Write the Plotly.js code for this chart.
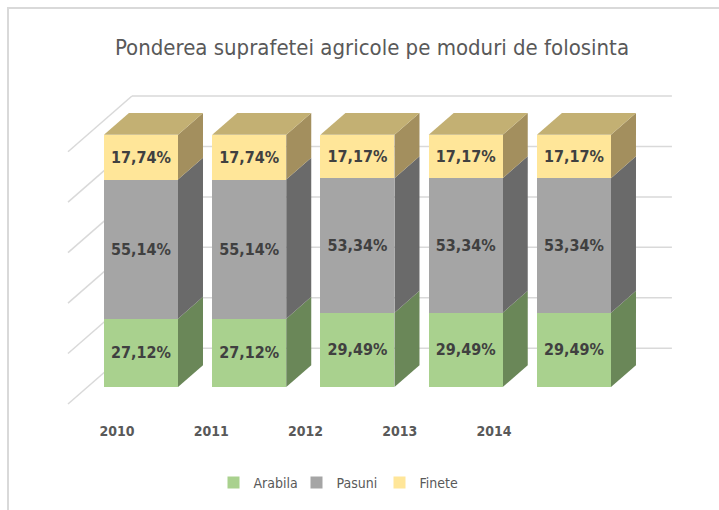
<!DOCTYPE html>
<html>
<head>
<meta charset="utf-8">
<script src="https://cdn.plot.ly/plotly-3.0.1.min.js"></script>
<style>
  html, body { margin: 0; padding: 0; background: #ffffff; }
  #wrap { position: relative; width: 719px; height: 510px; overflow: hidden; }
  #chart { width: 719px; height: 510px; }
  #frame { position: absolute; left: 7px; top: 7px; right: -10px; bottom: -10px;
           border-top: 2px solid #d9d9d9; border-left: 2px solid #d9d9d9; pointer-events: none; }
</style>
</head>
<body>
<div id="wrap"><div id="chart"></div><div id="frame"></div></div>
<script>
// ---- data ----
const years = ['2010', '2011', '2012', '2013', '2014'];
const seriesNames = ['Arabila', 'Pasuni', 'Finete'];
const arabila = [27.12, 27.12, 29.49, 29.49, 29.49];
const pasuni  = [55.14, 55.14, 53.34, 53.34, 53.34];
const finete  = [17.74, 17.74, 17.17, 17.17, 17.17];
const gridVals = [0, 20, 40, 60, 80, 100];

// ---- styles ----
const FONT = '"Liberation Sans Narrow", "DejaVu Sans Condensed", "Noto Sans", sans-serif';
const frontColors = ['#a9d18e', '#a5a5a5', '#ffe699'];
const sideColors  = ['#6a8758', '#6a6a6a', '#a38f5e'];
const topColor = '#c3b073';
const BW = 0.684;                    // bar width (category units)
const DX = 0.231, DY = 8.7;          // bar depth offset
const WALL_FRONT = {x: -0.674, dy: -6.7};  // left wall front edge
const WALL_BACK  = {x: -0.083, dy: 15.4};  // back wall left edge
const WALL_RIGHT = 4.905;

const idx = years.map((_, i) => i);
const series = [arabila, pasuni, finete];

const traces = series.map((vals, s) => ({
  type: 'bar', name: seriesNames[s], x: idx, y: vals, width: BW,
  marker: {color: frontColors[s], line: {width: 0}},
  texttemplate: '%{y:.2f}%', textposition: 'inside', insidetextanchor: 'middle',
  textangle: 0, constraintext: 'none',
  textfont: {family: FONT, size: 16, color: '#404040', weight: 700},
  hoverinfo: 'skip'
}));
// invisible trace to carry the year-label axis
traces.push({type: 'scatter', x: idx, y: idx.map(() => -1000), xaxis: 'x2', mode: 'markers',
  marker: {opacity: 0}, showlegend: false, hoverinfo: 'skip'});

const shapes = [];
// back wall + left wall gridlines
gridVals.forEach(v => {
  shapes.push({type: 'line', xref: 'x', yref: 'y', layer: 'below',
    x0: WALL_BACK.x, y0: v + WALL_BACK.dy, x1: WALL_RIGHT, y1: v + WALL_BACK.dy,
    line: {color: '#d9d9d9', width: 1.5}});
  shapes.push({type: 'line', xref: 'x', yref: 'y', layer: 'below',
    x0: WALL_FRONT.x, y0: v + WALL_FRONT.dy, x1: WALL_BACK.x, y1: v + WALL_BACK.dy,
    line: {color: '#d9d9d9', width: 1.5}});
});
// side and top faces from data
idx.forEach(i => {
  let base = 0;
  const xr = i + BW / 2, xl = i - BW / 2;
  series.forEach((vals, s) => {
    const top = base + vals[i];
    shapes.push({type: 'path', xref: 'x', yref: 'y', layer: 'below',
      path: `M${xr},${base} L${xr + DX},${base + DY} L${xr + DX},${top + DY} L${xr},${top} Z`,
      fillcolor: sideColors[s], line: {width: 0}});
    base = top;
  });
  shapes.push({type: 'path', xref: 'x', yref: 'y', layer: 'below',
    path: `M${xl},${base} L${xl + DX},${base + DY} L${xr + DX},${base + DY} L${xr},${base} Z`,
    fillcolor: topColor, line: {width: 0}});
});

const layout = {
  width: 719, height: 510,
  margin: {l: 60, r: 29, t: 80, b: 90},
  paper_bgcolor: '#ffffff', plot_bgcolor: 'rgba(0,0,0,0)',
  separators: ',.',
  barmode: 'stack',
  font: {family: FONT, color: '#595959'},
  title: {text: 'Ponderea suprafetei agricole pe moduri de folosinta',
    font: {family: FONT, size: 22, color: '#595959'},
    x: 372 / 719, xanchor: 'center', xref: 'container',
    y: 1 - 47 / 510, yanchor: 'middle', yref: 'container'},
  xaxis: {range: [-0.748, 5.072], showgrid: false, zeroline: false, showticklabels: false,
    showline: false, ticks: '', fixedrange: true},
  xaxis2: {overlaying: 'x', anchor: 'y', side: 'bottom', range: [-0.605, 6.079],
    tickmode: 'array', tickvals: idx, ticktext: years, showgrid: false, zeroline: false,
    showline: false, ticks: '', ticklabelstandoff: 2,
    tickfont: {family: FONT, size: 14, color: '#595959', weight: 700}},
  yaxis: {range: [-12.65, 121.74], showgrid: false, zeroline: false, showticklabels: false,
    showline: false, ticks: ''},
  showlegend: true,
  legend: {orientation: 'h', x: (338 - 60) / 630, xanchor: 'center', y: -0.185, yanchor: 'middle',
    font: {family: FONT, size: 14, color: '#595959'}, itemwidth: 30, entrywidth: 38,
    traceorder: 'normal'},
  shapes: shapes
};

Plotly.newPlot('chart', traces, layout, {displayModeBar: false, staticPlot: true});
</script>
</body>
</html>
